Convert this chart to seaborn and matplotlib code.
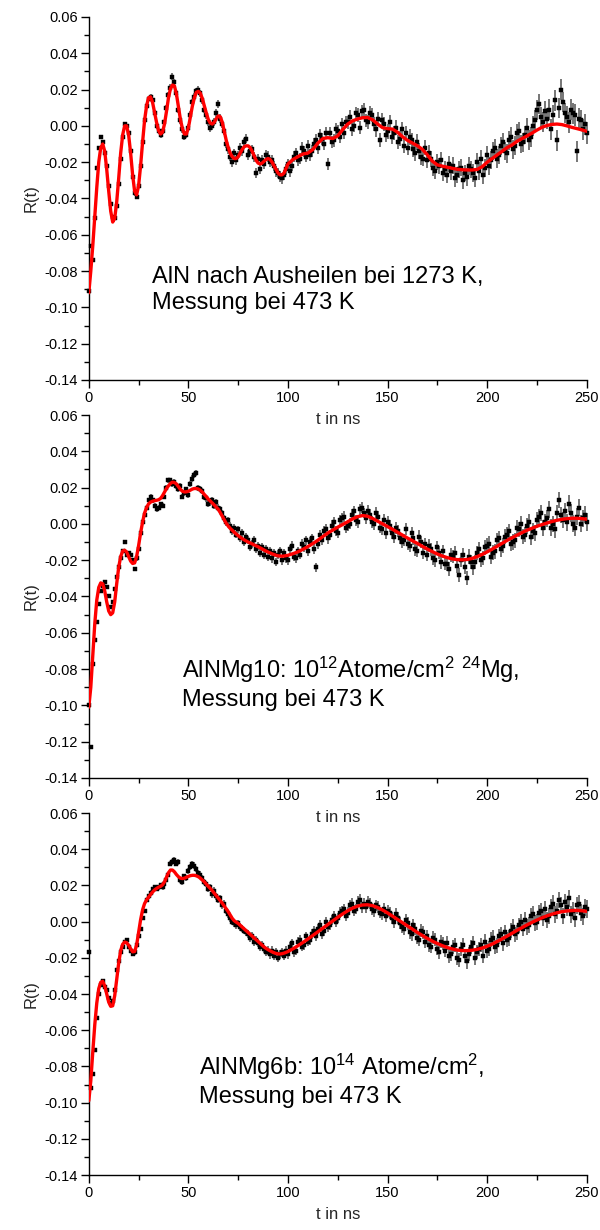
import numpy as np
import pandas as pd
import matplotlib
matplotlib.use("Agg")
import matplotlib.pyplot as plt
from matplotlib.ticker import MultipleLocator, FormatStrFormatter
import seaborn as sns

sns.set_theme(style="ticks")
plt.rcParams["font.family"] = ["Liberation Sans", "DejaVu Sans"]
plt.rcParams["mathtext.fontset"] = "custom"
plt.rcParams["mathtext.rm"] = "Liberation Sans"
plt.rcParams["mathtext.it"] = "Liberation Sans"
plt.rcParams["axes.unicode_minus"] = False

# ---------------------------------------------------------------------------
# Measured R(t) spectra (values in units of 1e-3), one sample per ns, t = 0..250
# ---------------------------------------------------------------------------
t_data = np.arange(0, 251, 1.0)

r_aln = [
    -91, -66, -74, -51, -23, -12, -6, -9, -15, -22,
    -33, -43, -50, -51, -44, -32, -18, -6, 1, 0,
    -4, -14, -28, -37, -39, -33, -22, -9, 3, 11,
    15, 16, 14, 7, 0, -3, -5, -3, 2, 10,
    17, 21, 27, 24, 18, 9, 3, -2, -6, -5,
    -1, 6, 13, 16, 19, 20, 18, 14, 9, 6,
    2, -1, 0, 2, 7, 12, 4, 1, -3, -10,
    -13, -17, -20, -15, -19, -16, -12, -14, -9, -7,
    -16, -14, -13, -17, -26, -18, -24, -19, -21, -16,
    -17, -20, -19, -22, -25, -26, -28, -29, -27, -24,
    -21, -25, -22, -17, -15, -19, -18, -12, -14, -17,
    -11, -16, -14, -10, -8, -12, -5, -7, -10, -4,
    -21, -4, -9, -8, -2, -3, -6, 1, -4, 2,
    2, 5, -2, 0, 7, 6, -1, 8, 9, 3,
    2, 7, 6, 1, -2, 4, -8, 3, 1, -5,
    -3, 2, -6, -4, -1, -9, -7, -2, -11, -4,
    -12, -6, -8, -13, -15, -9, -14, -17, -18, -12,
    -19, -15, -18, -23, -25, -20, -22, -19, -26, -24,
    -27, -21, -25, -22, -29, -27, -24, -23, -30, -26,
    -28, -22, -24, -26, -29, -20, -25, -18, -27, -23,
    -16, -22, -19, -14, -12, -18, -16, -11, -9, -14,
    -15, -8, -6, -13, -11, -4, -3, -10, -9, -5,
    -1, -8, -6, 0, 3, 9, 12, 5, 2, 8,
    4, 9, -2, 6, 14, -8, 10, 20, 13, 7,
    5, 2, 9, 7, 6, -14, 4, 3, -2, 1,
    -4,
]

r_mg10 = [
    -100, -123, -77, -64, -54, -44, -37, -34, -32, -35,
    -40, -46, -43, -36, -29, -24, -19, -15, -10, -17,
    -16, -17, -20, -25, -19, -14, -5, 1, 5, 9,
    13, 15, 13, 10, 8, 9, 11, 10, 15, 20,
    24, 24, 22, 23, 21, 19, 21, 15, 17, 19,
    16, 22, 25, 27, 28, 20, 19, 18, 15, 14,
    11, 12, 13, 10, 12, 9, 8, 6, 3, 1,
    2, -1, -4, -2, -6, -3, -8, -5, -10, -7,
    -9, -13, -11, -9, -14, -12, -16, -13, -17, -14,
    -18, -15, -19, -16, -21, -17, -15, -20, -16, -19,
    -20, -14, -12, -18, -19, -15, -17, -11, -13, -9,
    -15, -10, -8, -14, -24, -11, -6, -9, -4, -3,
    -8, -6, -1, 1, -4, -5, 2, 3, 4, -2,
    -1, 0, 5, 7, 2, 1, 8, 9, 6, 3,
    7, 5, 1, 0, 6, 4, -2, -3, 2, -5,
    1, -1, -5, -7, -2, -4, -8, -10, -9, -3,
    -11, -12, -5, -8, -14, -15, -7, -10, -16, -11,
    -17, -12, -14, -19, -20, -13, -16, -21, -15, -22,
    -22, -25, -17, -18, -16, -23, -28, -20, -17, -24,
    -30, -18, -21, -24, -21, -16, -14, -20, -19, -13,
    -12, -11, -18, -16, -15, -9, -8, -14, -12, -7,
    -6, -4, -11, -10, -9, -2, -3, 0, -7, -6,
    -1, 1, -7, -4, -5, 2, 4, 6, -2, 1,
    3, 8, -2, 0, -3, 6, 13, 5, 2, 7,
    1, 11, 6, 0, -2, 4, 9, 0, 3, 5,
    1,
]

r_mg6b = [
    -17, -92, -84, -71, -53, -40, -35, -33, -36, -38,
    -42, -45, -44, -38, -27, -22, -17, -14, -11, -10,
    -14, -16, -18, -17, -13, -8, -4, 2, 6, 12,
    14, 16, 18, 19, 18, 19, 20, 19, 21, 23,
    26, 32, 33, 34, 32, 33, 23, 22, 25, 24,
    28, 30, 32, 31, 29, 27, 26, 24, 22, 21,
    18, 19, 15, 17, 14, 12, 13, 9, 10, 6,
    4, 2, 0, -1, -2, -1, -3, -4, -5, -6,
    -7, -9, -8, -11, -10, -12, -14, -13, -15, -17,
    -16, -18, -16, -19, -17, -20, -18, -17, -19, -16,
    -18, -14, -12, -17, -16, -11, -10, -14, -13, -8,
    -11, -10, -7, -5, -8, -4, -2, -7, -5, 0,
    -3, -2, 1, 3, 0, 2, 5, 6, 7, 3,
    5, 9, 10, 6, 7, 11, 12, 8, 10, 8,
    11, 10, 7, 6, 9, 8, 5, 4, 7, 3,
    6, 5, 2, 0, 4, 2, -1, -3, -4, 1,
    -1, -6, -7, -2, -4, -9, -10, -5, -6, -11,
    -8, -13, -14, -9, -10, -15, -17, -11, -12, -16,
    -12, -19, -18, -14, -13, -20, -21, -15, -13, -19,
    -22, -18, -14, -12, -20, -17, -15, -13, -19, -11,
    -16, -15, -10, -9, -14, -13, -8, -7, -12, -6,
    -10, -9, -5, -3, -7, -6, -2, 0, -4, 1,
    -3, -2, 3, 4, -1, 0, 5, 6, 2, 7,
    1, 3, 8, 10, 4, 6, 12, 9, 3, 11,
    8, 13, 4, 6, 2, 9, 10, 5, 3, 8,
    7,
]

# error bar half-widths (1e-3), one value per 10-ns block
err_aln = [1.0, 1.1, 1.4, 1.5, 1.9, 2.0, 2.3, 2.4, 2.7, 2.9, 3.0, 3.3, 3.4,
           3.6, 3.9, 4.0, 4.3, 4.4, 4.6, 4.9, 5.0, 5.2, 5.5, 5.6, 5.8, 6.0]
err_mg10 = [0.9, 1.0, 1.2, 1.3, 1.5, 1.7, 1.9, 2.0, 2.2, 2.4, 2.5, 2.7, 2.9,
            3.0, 3.2, 3.3, 3.5, 3.6, 3.8, 3.9, 4.1, 4.2, 4.4, 4.5, 4.7, 4.8]
err_mg6b = [0.9, 1.0, 1.2, 1.3, 1.5, 1.7, 1.9, 2.0, 2.2, 2.4, 2.5, 2.7, 2.9,
            3.0, 3.2, 3.3, 3.5, 3.6, 3.8, 3.9, 4.1, 4.2, 4.4, 4.5, 4.7, 4.8]

# ---------------------------------------------------------------------------
# Fitted R(t) curves (1e-3): 1-ns steps up to 99 ns, then 2.5-ns steps
# ---------------------------------------------------------------------------
t_fit = np.concatenate([np.arange(0, 100, 1.0), np.arange(100, 250.1, 2.5)])

fit_aln = [
    -92, -80, -66, -50, -34, -20, -12, -10, -14, -24,
    -36, -47, -53, -51, -42, -29, -15, -5, 0, 0,
    -5, -15, -27, -36, -38, -33, -22, -9, 3, 11,
    15.5, 16, 13, 7.5, 2, -2.5, -4.5, -3.5, 1, 8,
    15.5, 20.5, 22.5, 22, 17.5, 10.5, 3.5, -1.5, -4.5, -4.5,
    -1, 5, 11, 15.5, 18.5, 19, 18, 15, 11, 7,
    3.5, 1.5, 1, 2, 4, 5.5, 5, 2, -3, -8,
    -12, -15, -17, -18, -18, -17, -15, -13, -11.5, -11,
    -11, -12, -14, -16.5, -19, -20.5, -21, -20.5, -19.5, -18.5,
    -18, -18.5, -20, -22, -24, -26, -27, -27, -26, -23.5,
    -21, -18.5, -17, -15.5, -15, -13, -9.5, -7, -6.5, -7,
    -5.5, -2, 1, 2.8, 3.8, 4.5, 4.6, 3.3, 1, -1,
    -1.5, -1.8, -3.5, -6, -8, -9.5, -11, -13, -16, -19.5,
    -21.5, -22.2, -22.8, -23.4, -23.9, -24.2, -24.3, -24.3, -24, -22.5,
    -20, -18, -16, -14, -12, -10.5, -8.5, -7, -5.5, -4,
    -2.3, -0.8, 0.2, 0.8, 1, 0.7, 0, -0.8, -1.5, -2.2,
    -3,
]

fit_mg10 = [
    -101, -90, -72, -55, -42, -35, -32.5, -33, -37, -43,
    -48, -50, -49, -43, -33, -24, -18, -15, -14.5, -15.5,
    -18, -20.5, -21.8, -21.5, -18, -12, -5, 1, 6, 9,
    11, 12, 12.5, 12.8, 13, 13.3, 14, 15.5, 17.5, 19.5,
    21, 22.3, 23, 22.8, 22, 20.5, 19, 18, 17.6, 17.7,
    18, 18.6, 19.2, 19.5, 19.5, 19.2, 18.5, 17.5, 16.2, 15,
    13.6, 12.6, 11.5, 10.4, 9.2, 8, 6.2, 4.2, 2.2, 0.3,
    -1.2, -2.5, -3.5, -4.6, -5.6, -6.5, -7.3, -8.1, -8.8, -9.4,
    -10, -10.5, -11, -11.6, -12.1, -12.6, -13.2, -13.8, -14.4, -15,
    -15.5, -16, -16.5, -16.9, -17.3, -17.6, -17.7, -17.8, -17.7, -17.5,
    -17.3, -16.4, -15.4, -14, -12.5, -10.8, -9, -7, -5, -3.4,
    -1.8, -0.3, 1.2, 2.8, 4, 4.6, 4.2, 3, 1.5, 0,
    -1.5, -3, -4.6, -6.2, -7.8, -9.3, -10.8, -12.4, -13.9, -15.3,
    -16.6, -17.7, -18.6, -19.3, -19.7, -19.8, -19.6, -19, -18, -16.8,
    -15.4, -13.9, -12.3, -10.7, -9.1, -7.6, -6.2, -4.8, -3.5, -2.4,
    -1.3, -0.4, 0.5, 1.3, 2, 2.5, 2.9, 3.1, 3.1, 2.9,
    2.6,
]

fit_mg6b = [
    -99, -88, -72, -57, -45, -37, -33.5, -33, -35.5, -40,
    -44.5, -46.8, -46.5, -41, -32, -23, -16, -12.5, -11.3, -11.6,
    -13, -15, -16.7, -16.5, -13, -6, 1, 6.5, 10, 12,
    13.5, 15, 16.3, 17.5, 18.3, 19, 19.5, 20.3, 22, 24.5,
    27, 28.5, 28.5, 27.5, 26, 24.8, 24, 23.8, 24, 24.5,
    25, 25.4, 25.6, 25.6, 25.3, 24.8, 24, 23, 22, 20.7,
    19.5, 18.3, 17.1, 15.7, 14.3, 13, 11.6, 10.2, 8.6, 7,
    5.5, 3.6, 1.8, 0.5, -0.3, -1, -2, -3, -4, -5,
    -6, -7, -8, -9, -10, -11, -12, -13, -14, -14.8,
    -15.5, -16.1, -16.7, -17.2, -17.6, -17.8, -17.9, -17.7, -17.4, -17,
    -16.5, -15, -13.3, -11.5, -9.6, -7.6, -5.6, -3.6, -1.6, 0.4,
    2.4, 4.3, 6, 7.5, 8.6, 9.2, 9.3, 8.8, 7.8, 6.4,
    4.8, 3, 1.2, -0.6, -2.4, -4.2, -6, -7.7, -9.3, -10.8,
    -12.1, -13.3, -14.3, -15.1, -15.7, -16, -16, -15.8, -15.3, -14.6,
    -13.6, -12.4, -11, -9.5, -8, -6.4, -4.8, -3.3, -1.8, -0.4,
    0.9, 2.1, 3.2, 4.1, 4.9, 5.5, 5.9, 6.1, 6.2, 6,
    5.7,
]

labels = [
    "AlN nach Ausheilen bei 1273 K,\nMessung bei 473 K",
    "AlNMg10: 10$^{12}$Atome/cm$^{2}$ $^{24}$Mg,\nMessung bei 473 K",
    "AlNMg6b: 10$^{14}$ Atome/cm$^{2}$,\nMessung bei 473 K",
]
label_pos = [(31.5, -0.0905), (47.0, -0.0875), (55.5, -0.0875)]

panels = [
    (r_aln, err_aln, fit_aln),
    (r_mg10, err_mg10, fit_mg10),
    (r_mg6b, err_mg6b, fit_mg6b),
]

# axes rectangles in figure fraction
rects = [
    [0.148, 0.6911, 0.830, 0.2951],
    [0.148, 0.3675, 0.830, 0.2951],
    [0.148, 0.0447, 0.830, 0.2943],
]

fig = plt.figure(figsize=(6.0, 12.3), dpi=100)

for (r, err, fit), rect, text, pos in zip(panels, rects, labels, label_pos):
    ax = fig.add_axes(rect)
    ax.set_facecolor("none")
    data = pd.DataFrame({
        "t": t_data,
        "R": np.asarray(r, dtype=float) * 1e-3,
        "dR": np.repeat(np.asarray(err, dtype=float), 10)[: len(t_data)] * 1e-3,
    })
    curve = pd.DataFrame({"t": t_fit, "R": np.asarray(fit, dtype=float) * 1e-3})

    ax.errorbar(data["t"], data["R"], yerr=data["dR"], fmt="none",
                ecolor="#5f5f5f", elinewidth=1.2, capsize=0, zorder=2,
                clip_on=False)
    sns.scatterplot(data=data, x="t", y="R", ax=ax, marker="s", s=8,
                    color="black", edgecolor="black", linewidth=0.3,
                    zorder=3, clip_on=False)
    sns.lineplot(data=curve, x="t", y="R", ax=ax, color="#ff0000",
                 linewidth=2.4, zorder=4, sort=False)

    ax.set_xlim(0, 250)
    ax.set_ylim(-0.14, 0.06)
    ax.xaxis.set_major_locator(MultipleLocator(50))
    ax.xaxis.set_minor_locator(MultipleLocator(25))
    ax.yaxis.set_major_locator(MultipleLocator(0.02))
    ax.yaxis.set_minor_locator(MultipleLocator(0.01))
    ax.yaxis.set_major_formatter(FormatStrFormatter("%.2f"))

    for side in ("top", "right"):
        ax.spines[side].set_visible(False)
    for side in ("left", "bottom"):
        ax.spines[side].set_linewidth(1.0)
        ax.spines[side].set_color("black")
    ax.tick_params(which="major", direction="out", length=6, width=1.0,
                   labelsize=10.5, colors="black", pad=2)
    ax.tick_params(which="minor", direction="out", length=3.5, width=1.0,
                   colors="black")

    ax.set_xlabel("t in ns", fontsize=12, labelpad=5)
    ax.set_ylabel("R(t)", fontsize=12, labelpad=4)

    ax.text(pos[0], pos[1], text, fontsize=17, color="black",
            ha="left", va="center", linespacing=1.25)

fig.savefig("out.png", dpi=100)
